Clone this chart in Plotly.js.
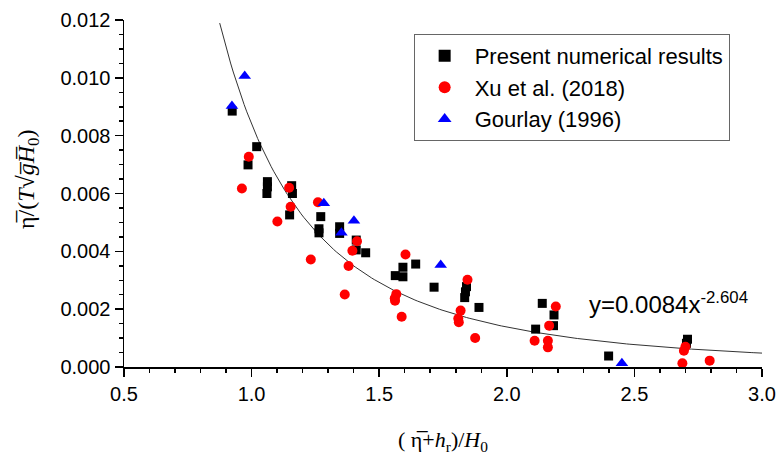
<!DOCTYPE html>
<html>
<head>
<meta charset="utf-8">
<script src="https://cdn.plot.ly/plotly-3.0.1.min.js"></script>
<style>
  html, body { margin: 0; padding: 0; background: #fff; }
  #chart { width: 782px; height: 462px; }
</style>
</head>
<body>
<div id="chart"></div>
<script>
// Present numerical results
const presentX = [0.924, 1.020, 0.986, 1.062, 1.062, 1.060, 1.157, 1.160, 1.149, 1.271, 1.264, 1.264, 1.345, 1.345, 1.410, 1.410, 1.447, 1.643, 1.593, 1.593, 1.563, 1.715, 1.842, 1.838, 1.835, 1.891, 2.139, 2.185, 2.183, 2.113, 2.399, 2.708, 2.704];
const presentY = [0.00885, 0.00762, 0.00699, 0.00641, 0.00623, 0.00600, 0.00627, 0.00600, 0.00526, 0.00520, 0.00478, 0.00464, 0.00485, 0.00462, 0.00439, 0.00405, 0.00395, 0.00356, 0.00345, 0.00312, 0.00316, 0.00276, 0.00278, 0.00260, 0.00240, 0.00206, 0.00220, 0.00180, 0.00143, 0.00131, 0.00038, 0.00096, 0.00082];
// Xu et al. (2018)
const xuX = [0.989, 0.962, 1.147, 1.153, 1.101, 1.260, 1.232, 1.413, 1.395, 1.380, 1.365, 1.603, 1.567, 1.561, 1.562, 1.588, 1.846, 1.819, 1.810, 1.812, 1.876, 2.192, 2.166, 2.109, 2.161, 2.161, 2.700, 2.694, 2.688, 2.795];
const xuY = [0.00727, 0.00617, 0.00620, 0.00554, 0.00503, 0.00570, 0.00372, 0.00435, 0.00402, 0.00349, 0.00251, 0.00389, 0.00252, 0.00238, 0.00229, 0.00174, 0.00302, 0.00195, 0.00168, 0.00155, 0.00100, 0.00209, 0.00143, 0.00091, 0.00091, 0.00068, 0.00070, 0.00056, 0.00013, 0.00022];
// Gourlay (1996)
const gourlayX = [0.923, 0.973, 1.283, 1.352, 1.401, 1.741, 2.451];
const gourlayY = [0.00903, 0.01006, 0.00566, 0.00464, 0.00506, 0.00353, 0.00013];
// Fitted power law shown on the chart: y = 0.0084 x^-2.604
const fitCoef = [0.0084, -2.604];
const fitRange = [0.875, 3.0];

const fitX = [], fitY = [];
for (let i = 0; i <= 200; i++) {
  const x = fitRange[0] + (fitRange[1] - fitRange[0]) * i / 200;
  fitX.push(x);
  fitY.push(fitCoef[0] * Math.pow(x, fitCoef[1]));
}

const sans = '"Liberation Sans", Arial, sans-serif';
const serif = '"Liberation Serif", "Times New Roman", serif';

const traces = [
  { x: fitX, y: fitY, mode: 'lines', line: { color: '#333', width: 1 }, showlegend: false, hoverinfo: 'skip' },
  { x: presentX, y: presentY, mode: 'markers', name: 'Present numerical results',
    marker: { symbol: 'square', size: 9, color: '#000' } },
  { x: xuX, y: xuY, mode: 'markers', name: 'Xu et al. (2018)',
    marker: { symbol: 'circle', size: 10, color: '#ff0000' } },
  { x: gourlayX, y: gourlayY, mode: 'markers', name: 'Gourlay (1996)',
    marker: { symbol: 'triangle-up', size: 11, color: '#0000ff' } }
];

const layout = {
  width: 782, height: 462,
  margin: { l: 124, r: 20, t: 20, b: 95 },
  paper_bgcolor: '#fff', plot_bgcolor: '#fff',
  font: { family: sans, size: 20, color: '#000' },
  showlegend: true,
  legend: {
    x: 0.454, y: 0.96, xanchor: 'left', yanchor: 'top',
    bgcolor: '#fff', bordercolor: '#666', borderwidth: 1,
    font: { family: sans, size: 22, color: '#000' },
    itemsizing: 'constant', itemwidth: 50
  },
  xaxis: {
    range: [0.5, 3.0], tickmode: 'linear', tick0: 0.5, dtick: 0.5,
    tickformat: '.1f',
    showgrid: false, zeroline: false, showline: true, linecolor: '#000', linewidth: 1.5,
    ticks: 'outside', ticklen: 8, tickwidth: 1.5, tickcolor: '#000',
    minor: { ticks: 'outside', ticklen: 4, tickwidth: 1.5, tickcolor: '#000', dtick: 0.1, showgrid: false },
    tickfont: { family: sans, size: 20 },
    mirror: false
  },
  yaxis: {
    range: [0, 0.012], tickmode: 'linear', tick0: 0, dtick: 0.002,
    tickformat: '.3f',
    showgrid: false, zeroline: false, showline: true, linecolor: '#000', linewidth: 1.5,
    ticks: 'outside', ticklen: 8, tickwidth: 1.5, tickcolor: '#000',
    minor: { ticks: 'outside', ticklen: 4, tickwidth: 1.5, tickcolor: '#000', dtick: 0.0005, showgrid: false },
    tickfont: { family: sans, size: 20 },
    mirror: false
  },
  annotations: [
    { xref: 'paper', yref: 'paper', x: (587 - 124) / 638, y: (367 - 303) / 347,
      xanchor: 'left', yanchor: 'middle', showarrow: false,
      text: 'y=0.0084x<sup>-2.604</sup>', font: { family: sans, size: 24, color: '#000' } },
    { xref: 'paper', yref: 'paper', x: 0.5, y: (367 - 441) / 347,
      xanchor: 'center', yanchor: 'middle', showarrow: false,
      text: '( \u03B7\u0305+<i>h</i><sub>r</sub>)/<i>H</i><sub>0</sub>', font: { family: serif, size: 22, color: '#000' } },
    { xref: 'paper', yref: 'paper', x: (28 - 124) / 638, y: (367 - 180) / 347,
      xanchor: 'center', yanchor: 'middle', showarrow: false, textangle: -90,
      text: '\u03B7\u0305/(<i>T</i>\u221A<i>g\u0305H\u0305</i><sub>0</sub>)', font: { family: serif, size: 24, color: '#000' } }
  ]
};

Plotly.newPlot('chart', traces, layout, { staticPlot: true, displayModeBar: false });
</script>
</body>
</html>
